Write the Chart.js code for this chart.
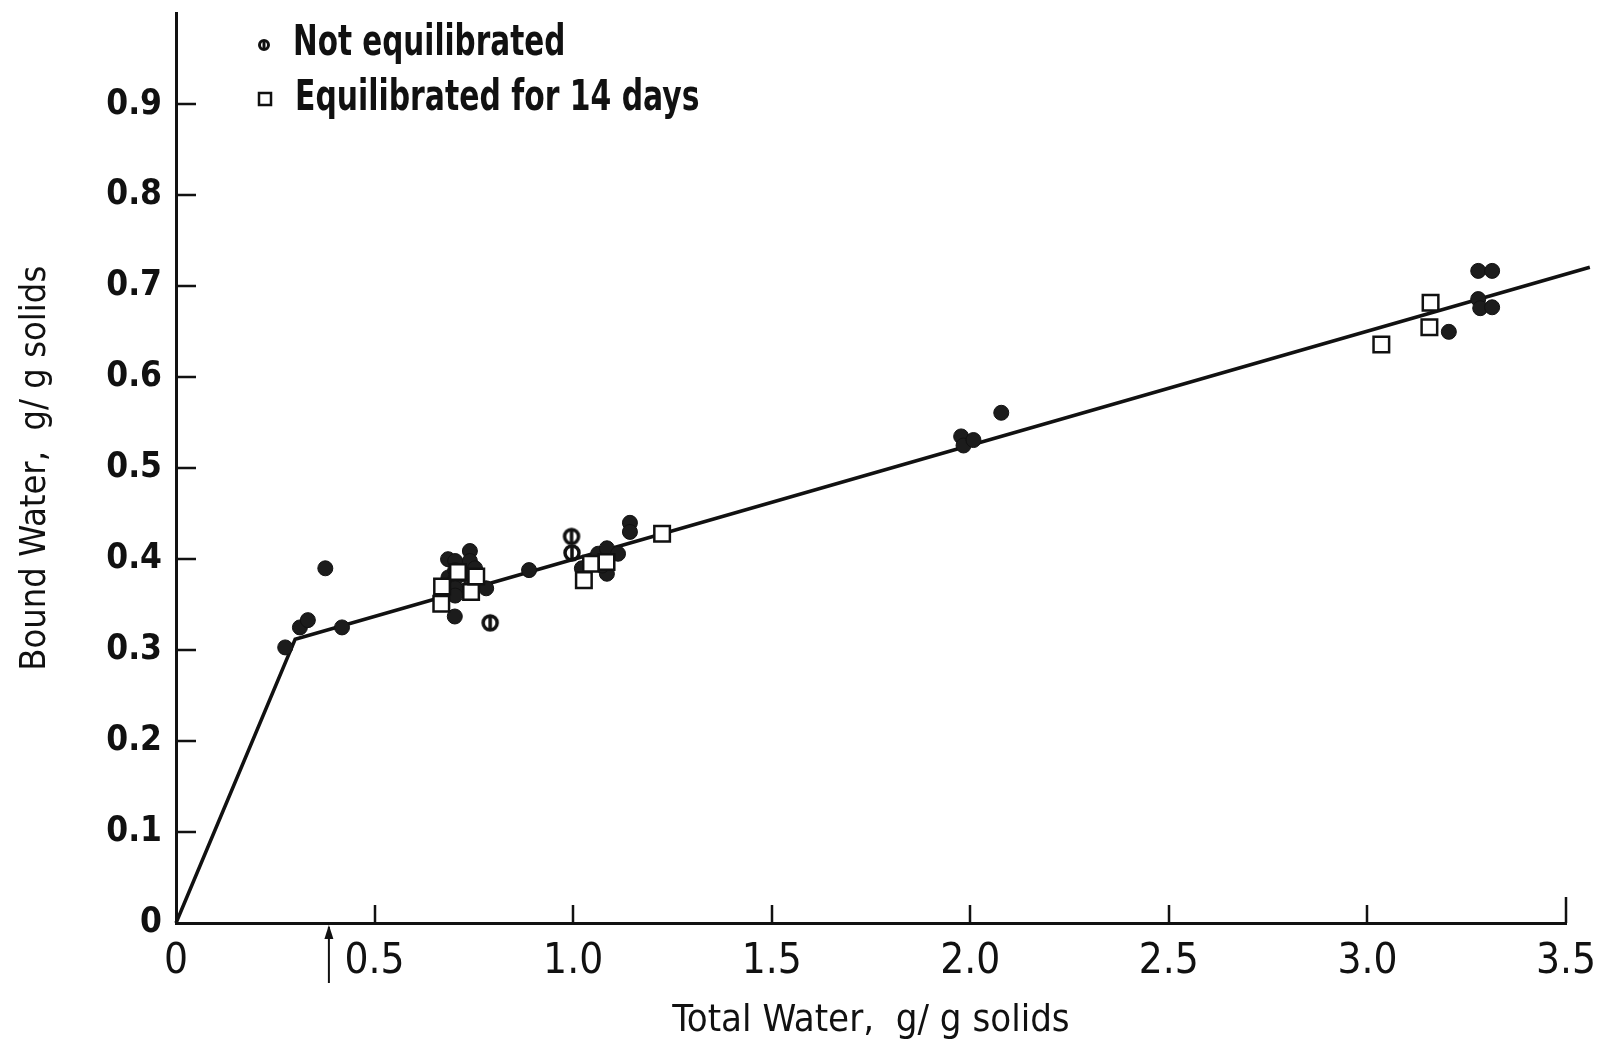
<!DOCTYPE html>
<html>
<head>
<meta charset="utf-8">
<title>Bound Water vs Total Water</title>
<script src="https://cdn.jsdelivr.net/npm/chart.js@4.4.1/dist/chart.umd.min.js"></script>
<style>
  html, body { margin: 0; padding: 0; background: #fff; }
  #wrap { position: relative; width: 1602px; height: 1045px; }
</style>
</head>
<body>
<div id="wrap"><canvas id="waterChart"></canvas></div>
<script>
// Not equilibrated samples (total water, bound water), g/g solids
const notEqX = [0.275, 0.312, 0.332, 0.376, 0.418,
  0.685, 0.686, 0.703, 0.703, 0.703, 0.703, 0.703, 0.702, 0.740, 0.740, 0.753, 0.733, 0.745, 0.781,
  0.791, 0.889, 0.996, 0.997,
  1.022, 1.063, 1.085, 1.113, 1.085, 1.073, 1.143, 1.143,
  1.977, 1.983, 2.008, 2.078,
  3.205, 3.279, 3.314, 3.279, 3.284, 3.314];
const notEqY = [0.303, 0.325, 0.333, 0.390, 0.325,
  0.400, 0.380, 0.398, 0.388, 0.378, 0.368, 0.360, 0.337, 0.409, 0.398, 0.390, 0.382, 0.372, 0.368,
  0.330, 0.388, 0.425, 0.407,
  0.390, 0.406, 0.412, 0.406, 0.384, 0.393, 0.440, 0.430,
  0.535, 0.525, 0.531, 0.561,
  0.650, 0.717, 0.717, 0.686, 0.676, 0.677];
// samples plotted with the split-circle symbol
const splitIdx = [19, 21, 22];

// Equilibrated for 14 days
const eqX = [0.670, 0.668, 0.710, 0.743, 0.756, 1.027, 1.045, 1.084, 1.224, 3.035, 3.159, 3.156];
const eqY = [0.370, 0.351, 0.386, 0.364, 0.381, 0.377, 0.395, 0.397, 0.428, 0.636, 0.682, 0.655];

// fitted two-segment line
const fitX = [0, 0.30, 3.56];
const fitY = [0, 0.312, 0.721];

const xTicks = [0, 0.5, 1.0, 1.5, 2.0, 2.5, 3.0, 3.5];
const yTicks = [0, 0.1, 0.2, 0.3, 0.4, 0.5, 0.6, 0.7, 0.8, 0.9];
const arrowAt = 0.385;

const narrow = "'Liberation Sans Narrow', 'DejaVu Sans Condensed', sans-serif";
const INK = '#111';

Chart.defaults.color = INK;
Chart.defaults.font.family = narrow;

const toPts = (xs, ys) => xs.map((x, i) => ({ x: x, y: ys[i] }));

// circle with a vertical bar through it
function splitMark(r, lw) {
  const c = document.createElement('canvas');
  const s = Math.ceil(r * 2 + lw + 2);
  c.width = s; c.height = s;
  const g = c.getContext('2d');
  g.strokeStyle = INK;
  g.lineWidth = lw;
  g.beginPath();
  g.arc(s / 2, s / 2, r, 0, Math.PI * 2);
  g.stroke();
  g.beginPath();
  g.moveTo(s / 2, s / 2 - r);
  g.lineTo(s / 2, s / 2 + r);
  g.stroke();
  return c;
}
const splitBig = splitMark(7, 3.5);
const splitSmall = splitMark(4.5, 3);

// tick marks point into the plot, plus the arrow under the x axis
const innerTicks = {
  id: 'innerTicks',
  beforeDatasetsDraw(chart) {
    const { ctx, chartArea: ca, scales: { x, y } } = chart;
    ctx.save();
    ctx.strokeStyle = INK;
    ctx.lineWidth = 2.5;
    ctx.beginPath();
    yTicks.forEach(v => {
      if (v <= 0) return;
      const py = Math.round(y.getPixelForValue(v));
      ctx.moveTo(ca.left, py);
      ctx.lineTo(ca.left + 20, py);
    });
    xTicks.forEach(v => {
      if (v <= 0) return;
      const px = Math.round(x.getPixelForValue(v));
      ctx.moveTo(px, ca.bottom);
      ctx.lineTo(px, ca.bottom - (v === 3.5 ? 26 : 18));
    });
    ctx.stroke();

    const ax = x.getPixelForValue(arrowAt);
    ctx.lineWidth = 2;
    ctx.beginPath();
    ctx.moveTo(ax, ca.bottom + 4);
    ctx.lineTo(ax, ca.bottom + 60);
    ctx.stroke();
    ctx.fillStyle = INK;
    ctx.beginPath();
    ctx.moveTo(ax, ca.bottom + 2);
    ctx.lineTo(ax - 4.5, ca.bottom + 16);
    ctx.lineTo(ax + 4.5, ca.bottom + 16);
    ctx.closePath();
    ctx.fill();
    ctx.restore();
  }
};

// legend in the upper left of the plot, set in a squeezed face
function narrowText(ctx, text, x, y, squeeze) {
  ctx.save();
  ctx.translate(x, y);
  ctx.scale(squeeze, 1);
  ctx.fillText(text, 0, 0);
  ctx.restore();
}

const cornerLegend = {
  id: 'cornerLegend',
  afterDraw(chart) {
    const { ctx } = chart;
    ctx.save();
    ctx.font = 'bold 42px ' + narrow;
    ctx.fillStyle = INK;
    ctx.textBaseline = 'middle';
    ctx.textAlign = 'left';
    ctx.drawImage(splitSmall, 264 - splitSmall.width / 2, 45 - splitSmall.height / 2);
    narrowText(ctx, chart.data.datasets[1].label, 293, 44, 0.78);
    ctx.strokeStyle = INK;
    ctx.lineWidth = 2.5;
    ctx.strokeRect(259, 93, 12, 12);
    narrowText(ctx, chart.data.datasets[0].label, 295, 99, 0.79);
    ctx.restore();
  }
};

new Chart(document.getElementById('waterChart'), {
  type: 'scatter',
  data: {
    datasets: [
      {
        label: 'Equilibrated for 14 days',
        data: toPts(eqX, eqY),
        pointStyle: 'rect',
        pointRadius: 11,
        pointBackgroundColor: '#fff',
        pointBorderColor: INK,
        pointBorderWidth: 2.5,
        order: 0
      },
      {
        label: 'Not equilibrated',
        data: toPts(notEqX, notEqY),
        pointStyle: ctx => splitIdx.includes(ctx.dataIndex) ? splitBig : 'circle',
        pointRadius: 7.5,
        pointBackgroundColor: '#1c1c1c',
        pointBorderColor: INK,
        pointBorderWidth: 1,
        order: 1
      },
      {
        type: 'line',
        label: 'fit',
        data: toPts(fitX, fitY),
        borderColor: INK,
        borderWidth: 3.5,
        pointRadius: 0,
        tension: 0,
        clip: false,
        order: 2
      }
    ]
  },
  options: {
    responsive: true,
    maintainAspectRatio: false,
    animation: false,
    events: [],
    layout: { padding: { top: 12, right: 36, bottom: 0, left: 0 } },
    scales: {
      x: {
        type: 'linear',
        min: 0,
        max: 3.5,
        afterBuildTicks: s => { s.ticks = xTicks.map(v => ({ value: v })); },
        afterFit: s => { s.height = 122; s.paddingLeft = 0; s.paddingRight = 0; },
        grid: { display: false, drawTicks: false },
        border: { display: true, color: INK, width: 3 },
        ticks: {
          padding: 14,
          color: INK,
          font: { size: 42, family: narrow },
          callback: v => v === 0 ? '0' : v.toFixed(1)
        },
        title: {
          display: true,
          text: 'Total Water,  g/ g solids',
          color: INK,
          font: { size: 38, family: narrow, lineHeight: 1 },
          padding: { top: 0, bottom: 5 }
        }
      },
      y: {
        type: 'linear',
        min: 0,
        max: 1.0,
        afterBuildTicks: s => { s.ticks = yTicks.map(v => ({ value: v })); },
        afterFit: s => { s.width = 176; s.paddingTop = 0; s.paddingBottom = 0; },
        grid: { display: false, drawTicks: false },
        border: { display: true, color: INK, width: 3 },
        ticks: {
          padding: 14,
          color: INK,
          font: { size: 35, weight: 'bold', family: "'DejaVu Sans Condensed', 'DejaVu Sans', sans-serif" },
          callback: v => v === 0 ? '0' : v.toFixed(1)
        },
        title: {
          display: true,
          text: 'Bound Water,  g/ g solids',
          color: INK,
          font: { size: 36, family: narrow, lineHeight: 1 },
          padding: { top: 18, bottom: 0 }
        }
      }
    },
    plugins: {
      legend: { display: false },
      tooltip: { enabled: false }
    }
  },
  plugins: [innerTicks, cornerLegend]
});
</script>
</body>
</html>
